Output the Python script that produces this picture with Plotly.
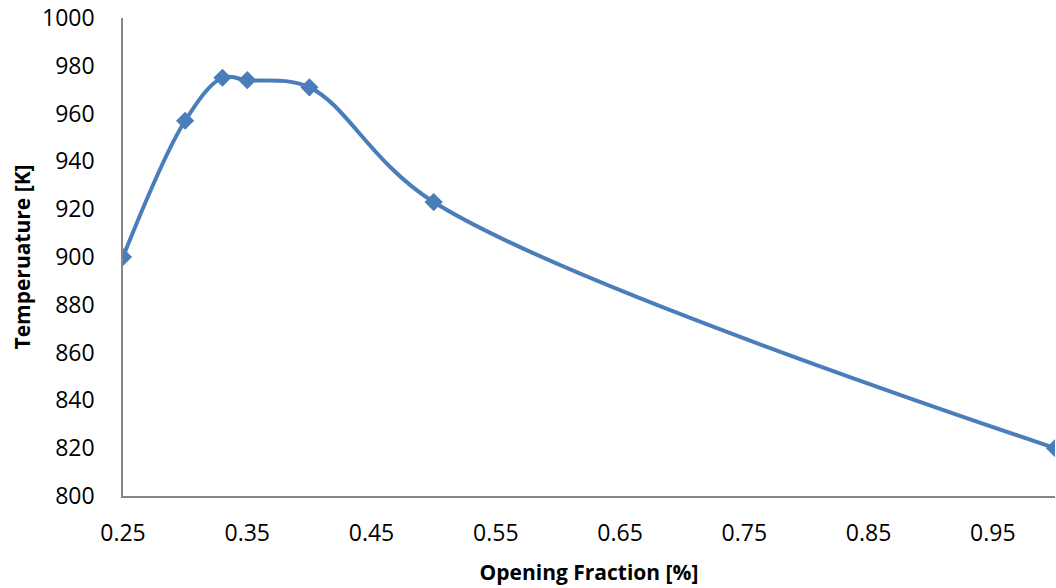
import plotly.graph_objects as go

# Opening fraction vs. outlet temperature
opening_fraction = [0.25, 0.30, 0.33, 0.35, 0.40, 0.50, 1.00]
temperature_k = [900, 957, 975, 974, 971, 923, 820]

x_ticks = [0.25, 0.35, 0.45, 0.55, 0.65, 0.75, 0.85, 0.95]
y_ticks = [800, 820, 840, 860, 880, 900, 920, 940, 960, 980, 1000]

line_color = "#4a7ebb"
axis_color = "#868686"
font_family = "Open Sans, Liberation Sans, sans-serif"

fig = go.Figure(
    go.Scatter(
        x=opening_fraction,
        y=temperature_k,
        mode="lines+markers",
        line=dict(color=line_color, width=4, shape="spline", smoothing=1.0),
        marker=dict(symbol="diamond", size=14, color=line_color),
        showlegend=False,
    )
)

fig.update_layout(
    width=1056,
    height=588,
    margin=dict(l=123, r=1, t=18, b=92),
    paper_bgcolor="white",
    plot_bgcolor="white",
    font=dict(family=font_family, color="black"),
)

fig.update_xaxes(
    range=[0.25, 1.0],
    tickvals=x_ticks,
    ticktext=[f"{v:.2f}" for v in x_ticks],
    showgrid=False,
    zeroline=False,
    showline=True,
    linecolor=axis_color,
    linewidth=1.5,
    ticks="",
    ticklabelstandoff=16,
    tickfont=dict(size=23),
    title=dict(
        text="<b>Opening Fraction [%]</b>",
        font=dict(size=21),
        standoff=18,
    ),
)

fig.update_yaxes(
    range=[800, 1000],
    tickvals=y_ticks,
    showgrid=False,
    zeroline=False,
    showline=True,
    linecolor=axis_color,
    linewidth=1.5,
    ticks="",
    ticklabelstandoff=22,
    tickfont=dict(size=23),
    title=dict(
        text="<b>Temperuature [K]</b>",
        font=dict(size=21),
        standoff=6,
    ),
)

fig.write_html("out.html")
